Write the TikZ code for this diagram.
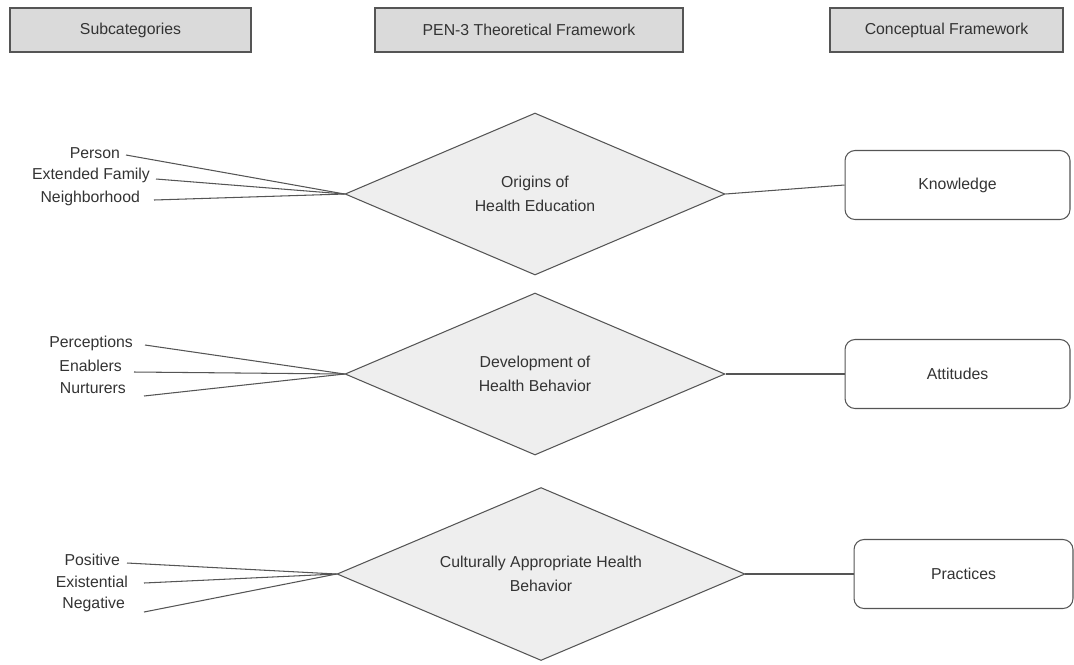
\documentclass[tikz,border=0pt]{standalone}
\usepackage{fontspec}
\setmainfont{Liberation Sans}
\usepackage{tikz}
\usetikzlibrary{calc}
\usetikzlibrary{shapes}
\usetikzlibrary{shapes.geometric}
\definecolor{edgegray}{HTML}{555555}
\definecolor{headfill}{HTML}{DADADA}
\definecolor{diafill}{HTML}{EEEEEE}
\definecolor{txtgray}{HTML}{333333}
\tikzstyle{head} = [rectangle, draw = edgegray, fill = headfill, line width = 0.9pt, minimum height = 0.88cm, text = txtgray]
\tikzstyle{theme} = [diamond, aspect = 2.35, draw = edgegray, fill = diafill, line width = 0.6pt, inner sep = 0pt, minimum width = 7.6cm, minimum height = 3.24cm, align = center, text = txtgray]
\tikzstyle{concept} = [rectangle, rounded corners = 0.2cm, draw = edgegray, line width = 0.6pt, minimum width = 4.5cm, minimum height = 1.38cm, text = txtgray]
\tikzstyle{sub} = [anchor = east, inner sep = 1pt, text = txtgray]
\tikzstyle{link} = [-, draw = edgegray, line width = 0.6pt]

\begin{document}
\begin{tikzpicture}[x = 0.02cm, y = -0.02cm, font = \fontsize{9}{10}\selectfont]
\useasboundingbox (0, 0) rectangle (1074, 664);
% column headings
\node [head, minimum width = 4.82cm] (H1) at (130.5, 30) {Subcategories};
\node [head, minimum width = 6.16cm] (H2) at (529, 30) {PEN-3 Theoretical Framework};
\node [head, minimum width = 4.66cm] (H3) at (946.5, 30) {Conceptual Framework};

% PEN-3 domains
\node [theme] (D1) at (535, 194) {Origins of\\[4pt]Health Education};
\node [theme] (D2) at (535, 374) {Development of\\[4pt]Health Behavior};
\node [theme, minimum width = 8.16cm, minimum height = 3.46cm] (D3) at (541, 574) {Culturally Appropriate Health\\[4pt]Behavior};

% conceptual framework
\node [concept] (K) at (957.5, 185) {Knowledge};
\node [concept] (A) at (957.5, 374) {Attitudes};
\node [concept, minimum width = 4.38cm] (P) at (963.5, 574) {Practices};

\draw [link] (D1.east) to (K.west);
\draw [link] (D2.east) to (A.west);
\draw [link] (D3.east) to (P.west);

% subcategories
\node [sub] (S1) at (122, 153) {Person};
\node [sub] (S2) at (152, 175) {Extended Family};
\node [sub] (S3) at (142, 198) {Neighborhood};
\node [sub] (S4) at (135, 343) {Perceptions};
\node [sub] (S5) at (124, 366) {Enablers};
\node [sub] (S6) at (128, 388) {Nurturers};
\node [sub] (S7) at (122, 560) {Positive};
\node [sub] (S8) at (130, 582) {Existential};
\node [sub] (S9) at (127, 604) {Negative};

\draw [link] ($(S1.east) + (4, 2)$) to (D1.west);
\draw [link] ($(S2.east) + (4, 4)$) to (D1.west);
\draw [link] ($(S3.east) + (12, 2)$) to (D1.west);
\draw [link] ($(S4.east) + (10, 2)$) to (D2.west);
\draw [link] ($(S5.east) + (10, 6)$) to (D2.west);
\draw [link] ($(S6.east) + (16, 8)$) to (D2.west);
\draw [link] ($(S7.east) + (5, 3)$) to (D3.west);
\draw [link] ($(S8.east) + (14, 1)$) to (D3.west);
\draw [link] ($(S9.east) + (17, 8)$) to (D3.west);
\end{tikzpicture}
\end{document}
